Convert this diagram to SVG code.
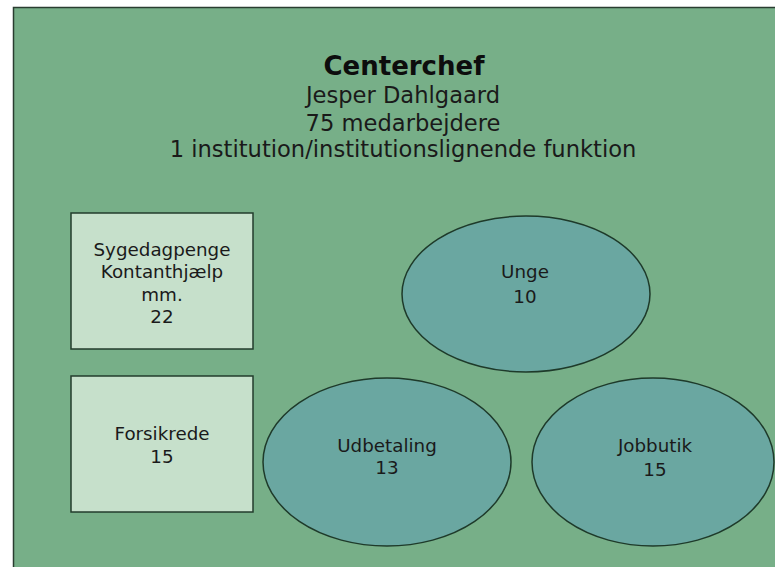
<svg xmlns="http://www.w3.org/2000/svg" width="775" height="567" viewBox="0 0 775 567">
<style>
text{font-family:"DejaVu Sans",Verdana,sans-serif;fill:#1a1a1a;text-anchor:middle}
.t{font-size:22.6px}
.b{font-size:26px;font-weight:bold;fill:#0d0d0d}
.n{font-size:18.3px}
.box{fill:#c6e0cb;stroke:#233d2c;stroke-width:1.5}
.ell{fill:#6aa7a1;stroke:#1e3a2a;stroke-width:1.5}
</style>
<rect x="0" y="0" width="775" height="567" fill="#ffffff"/>
<rect id="background" x="13.5" y="7.5" width="775" height="575" fill="#77af88" stroke="#2a3d30" stroke-width="1.5"/>
<g id="centerchef">
<text class="b" x="404" y="75">Centerchef</text>
<text class="t" x="403" y="103">Jesper Dahlgaard</text>
<text class="t" x="403" y="131">75 medarbejdere</text>
<text class="t" x="403" y="157">1 institution/institutionslignende funktion</text>
</g>
<g id="sygedagpenge">
<rect class="box" x="71" y="213" width="182" height="136"/>
<text class="n" x="162" y="255.5">Sygedagpenge</text>
<text class="n" x="162" y="278">Kontanthjælp</text>
<text class="n" x="162" y="300.5">mm.</text>
<text class="n" x="162" y="323">22</text>
</g>
<g id="forsikrede">
<rect class="box" x="71" y="376" width="182" height="136"/>
<text class="n" x="162" y="440">Forsikrede</text>
<text class="n" x="162" y="462.5">15</text>
</g>
<g id="unge">
<ellipse class="ell" cx="526" cy="294" rx="124" ry="78"/>
<text class="n" x="525" y="278">Unge</text>
<text class="n" x="525" y="303">10</text>
</g>
<g id="udbetaling">
<ellipse class="ell" cx="387" cy="462" rx="124" ry="84"/>
<text class="n" x="387" y="452">Udbetaling</text>
<text class="n" x="387" y="474">13</text>
</g>
<g id="jobbutik">
<ellipse class="ell" cx="653" cy="462" rx="121" ry="84"/>
<text class="n" x="655" y="452">Jobbutik</text>
<text class="n" x="655" y="476">15</text>
</g>
<g id="connectors"></g>
</svg>
